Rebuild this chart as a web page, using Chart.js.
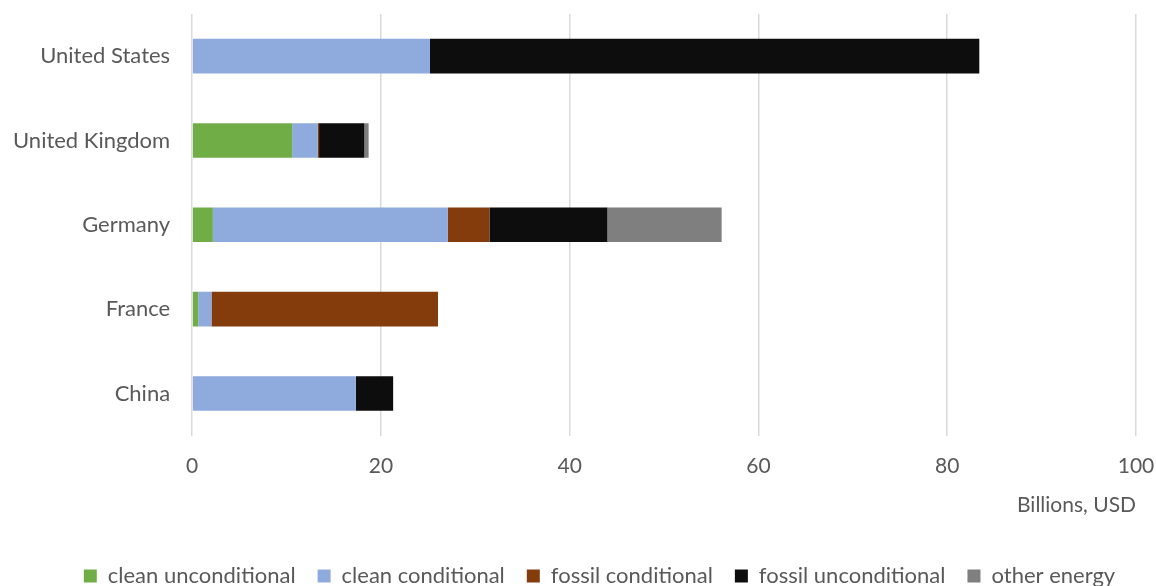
<!DOCTYPE html>
<html>
<head>
<meta charset="utf-8">
<script src="https://cdn.jsdelivr.net/npm/chart.js@4"></script>
<style>
  html,body{margin:0;padding:0;background:#fff;}
  #wrap{width:1156px;height:586px;}
</style>
</head>
<body>
<div id="wrap"><canvas id="c"></canvas></div>
<script>
// countries, top to bottom
const countries=['United States','United Kingdom','Germany','France','China'];
// billions USD per country
const cleanUncond=[0,10.6,2.2,0.65,0];
const cleanCond=[25.2,2.7,24.9,1.4,17.35];
const fossilCond=[0,0.15,4.4,24.0,0];
const fossilUncond=[58.2,4.8,12.5,0,3.95];
const otherEnergy=[0,0.45,12.1,0,0];
const xTicks=[0,20,40,60,80,100];

const FONT='Lato';
const TXT='#595959';

const ds=(label,data,color)=>({label,data,backgroundColor:color,borderWidth:0,
  barPercentage:0.82,categoryPercentage:0.5});

// drop the extra room the axes ask for around the plot
const noPad=s=>{s.paddingTop=0;s.paddingBottom=0;s.paddingLeft=0;s.paddingRight=0;};

// legend sits a little right of the page centre
const legendShift={id:'legendShift',afterLayout(c){
  if(c.legend){c.legend.left+=36;c.legend.right+=36;}
}};

new Chart(document.getElementById('c'),{
  type:'bar',
  data:{labels:countries,datasets:[
    ds('clean unconditional',cleanUncond,'#70AD47'),
    ds('clean conditional',cleanCond,'#8FAADC'),
    ds('fossil conditional',fossilCond,'#843C0C'),
    ds('fossil unconditional',fossilUncond,'#0D0D0D'),
    ds('other energy',otherEnergy,'#7F7F7F'),
  ]},
  plugins:[legendShift],
  options:{
    indexAxis:'y',responsive:true,maintainAspectRatio:false,animation:false,
    layout:{padding:{top:14,right:20,left:-9,bottom:-11}},
    plugins:{
      legend:{position:'bottom',
        labels:{color:TXT,font:{family:FONT,size:22},boxWidth:13,boxHeight:13,padding:22}},
      tooltip:{enabled:false}
    },
    scales:{
      x:{stacked:true,min:0,max:100,afterFit:noPad,
        afterBuildTicks:a=>{a.ticks=xTicks.map(v=>({value:v}));},
        grid:{color:'#d9d9d9',lineWidth:1.5,drawTicks:false},
        border:{display:false},
        ticks:{color:TXT,font:{family:FONT,size:21},padding:18},
        title:{display:true,text:'Billions, USD',align:'end',color:TXT,
          font:{family:FONT,size:21},padding:{top:-4,bottom:25}}
      },
      y:{stacked:true,afterFit:noPad,
        grid:{display:false,drawTicks:false},border:{display:false},
        ticks:{color:TXT,font:{family:FONT,size:22},padding:22}
      }
    }
  }
});
</script>
</body>
</html>
